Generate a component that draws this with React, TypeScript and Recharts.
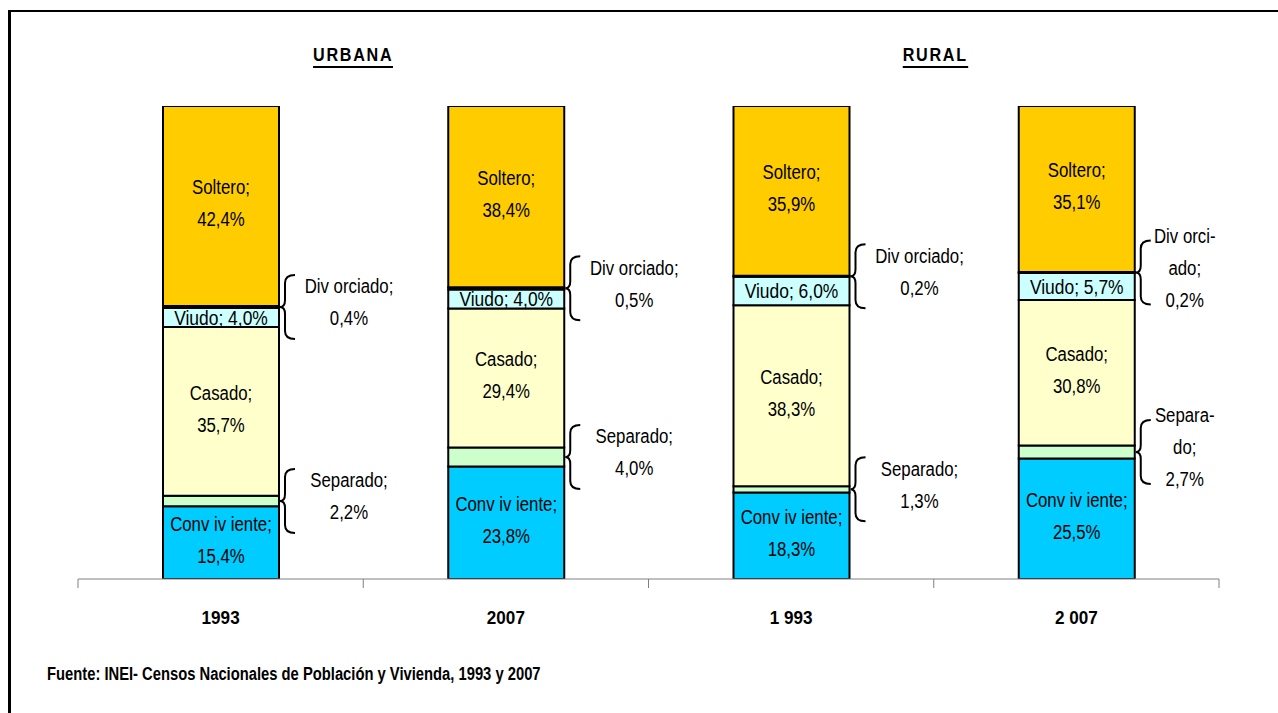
import React from 'react';
import { BarChart, Bar, XAxis, YAxis, LabelList } from 'recharts';

const categories = ['1993', '2007', '1 993', '2 007'];
const conviviente = [15.4, 23.8, 18.3, 25.5];
const separado = [2.2, 4.0, 1.3, 2.7];
const casado = [35.7, 29.4, 38.3, 30.8];
const viudo = [4.0, 4.0, 6.0, 5.7];
const divorciado = [0.4, 0.5, 0.2, 0.2];
const soltero = [42.4, 38.4, 35.9, 35.1];

const convivienteName = ['Conv iv iente;', 'Conv iv iente;', 'Conv iv iente;', 'Conv iv iente;'];
const casadoName = ['Casado;', 'Casado;', 'Casado;', 'Casado;'];
const solteroName = ['Soltero;', 'Soltero;', 'Soltero;', 'Soltero;'];
const separadoName = [['Separado;'], ['Separado;'], ['Separado;'], ['Separa-', 'do;']];
const divorciadoName = [['Div orciado;'], ['Div orciado;'], ['Div orciado;'], ['Div orci-', 'ado;']];
const groupTitles = ['URBANA', 'RURAL'];
const source = 'Fuente: INEI- Censos Nacionales de Población y Vivienda, 1993 y 2007';

const data = categories.map((c, i) => ({
  cat: c,
  conviviente: conviviente[i],
  separado: separado[i],
  casado: casado[i],
  viudo: viudo[i],
  divorciado: divorciado[i],
  soltero: soltero[i],
}));

const FONT = "'Liberation Sans', Arial, sans-serif";
const fmt = (v: number) => v.toFixed(1).replace('.', ',') + '%';

const SText = ({ x, y, size = 21, sx = 0.8, bold = false, children }: any) => (
  <text
    transform={`translate(${x},${y}) scale(${sx},1)`}
    x={0}
    y={0}
    dy="0.35em"
    textAnchor="middle"
    fontFamily={FONT}
    fontSize={size}
    fontWeight={bold ? 'bold' : 'normal'}
    fill="#000"
  >
    {children}
  </text>
);

const box = (p: any) => {
  const vb = p.viewBox && p.viewBox.width !== undefined ? p.viewBox : p;
  const x = Number(vb.x), y = Number(vb.y), w = Number(vb.width), h = Number(vb.height);
  const top = h < 0 ? y + h : y;
  return { x, top, w, h: Math.abs(h) };
};

const insideTwo = (names: string[], values: number[]) => (p: any) => {
  const { x, top, w, h } = box(p);
  const i = p.index;
  const cx = x + w / 2;
  const cy = top + h / 2 - 3;
  return (
    <g key={`in-${i}`}>
      <SText x={cx} y={cy - 16}>{names[i]}</SText>
      <SText x={cx} y={cy + 16}>{fmt(values[i])}</SText>
    </g>
  );
};

const insideOne = (name: string, values: number[]) => (p: any) => {
  const { x, top, w, h } = box(p);
  const i = p.index;
  return (
    <g key={`one-${i}`}>
      <SText x={x + w / 2} y={top + h / 2} sx={0.83}>{`${name} ${fmt(values[i])}`}</SText>
    </g>
  );
};

const braced = (names: string[][], values: number[]) => (p: any) => {
  const { x, top, w, h } = box(p);
  const i = p.index;
  const px = x + w + 1;
  const cy = top + h / 2;
  const lines = [...names[i], fmt(values[i])];
  const tx = px + (lines.length > 2 ? 49 : 69);
  const start = cy - 5 - ((lines.length - 1) * 32) / 2;
  const d = `M ${px + 15} ${cy - 32} Q ${px + 5} ${cy - 32} ${px + 5} ${cy - 24} L ${px + 5} ${cy - 7} Q ${px + 5} ${cy} ${px} ${cy} Q ${px + 5} ${cy} ${px + 5} ${cy + 7} L ${px + 5} ${cy + 24} Q ${px + 5} ${cy + 32} ${px + 15} ${cy + 32}`;
  return (
    <g key={`br-${i}`}>
      <path d={d} fill="none" stroke="#000" strokeWidth={2} />
      {lines.map((l, k) => (
        <SText key={k} x={tx} y={start + k * 32}>{l}</SText>
      ))}
    </g>
  );
};

const CategoryTick = (props: any) => {
  const { x, y, payload, index } = props;
  const off = payload && payload.offset ? payload.offset : 0;
  return (
    <g>
      <line x1={x - off} x2={x - off} y1={y} y2={y + 9} stroke="#808080" strokeWidth={1} />
      {index === categories.length - 1 && (
        <line x1={x + off} x2={x + off} y1={y} y2={y + 9} stroke="#808080" strokeWidth={1} />
      )}
      <SText x={x} y={y + 38} size={19} sx={0.9} bold>{payload.value}</SText>
    </g>
  );
};

export default function App() {
  return (
    <div style={{ position: 'absolute', left: 0, top: 0, width: 1278, height: 713, overflow: 'hidden', background: '#fff' }}>
      <div style={{ position: 'absolute', left: 8, top: 10, width: 1400, height: 900, borderLeft: '3px solid #000', borderTop: '2.5px solid #000' }} />
      <div style={{ position: 'absolute', left: 0, top: 0 }}>
        <BarChart width={1278} height={713} data={data} margin={{ top: 106, right: 59, bottom: 94, left: 78 }} barSize={116}>
          <XAxis dataKey="cat" height={40} tickLine={false} tickSize={0} tickMargin={0} axisLine={{ stroke: '#808080', strokeWidth: 1 }} tick={<CategoryTick />} interval={0} />
          <YAxis hide type="number" domain={[0, 100]} allowDataOverflow />
          <Bar dataKey="conviviente" stackId="a" fill="#00CCFF" stroke="#000" strokeWidth={2} isAnimationActive={false}>
            <LabelList dataKey="conviviente" content={insideTwo(convivienteName, conviviente)} />
          </Bar>
          <Bar dataKey="separado" stackId="a" fill="#CCFFCC" stroke="#000" strokeWidth={2} isAnimationActive={false}>
            <LabelList dataKey="separado" content={braced(separadoName, separado)} />
          </Bar>
          <Bar dataKey="casado" stackId="a" fill="#FFFFCC" stroke="#000" strokeWidth={2} isAnimationActive={false}>
            <LabelList dataKey="casado" content={insideTwo(casadoName, casado)} />
          </Bar>
          <Bar dataKey="viudo" stackId="a" fill="#CCFFFF" stroke="#000" strokeWidth={2} isAnimationActive={false}>
            <LabelList dataKey="viudo" content={insideOne('Viudo;', viudo)} />
          </Bar>
          <Bar dataKey="divorciado" stackId="a" fill="#000000" stroke="#000" strokeWidth={2} isAnimationActive={false}>
            <LabelList dataKey="divorciado" content={braced(divorciadoName, divorciado)} />
          </Bar>
          <Bar dataKey="soltero" stackId="a" fill="#FFCC00" stroke="#000" strokeWidth={2} isAnimationActive={false}>
            <LabelList dataKey="soltero" content={insideTwo(solteroName, soltero)} />
          </Bar>
        </BarChart>
      </div>
      {groupTitles.map((t, i) => (
        <div key={t} style={{ position: 'absolute', left: (i === 0 ? 353 : 935) - 150, top: 44, width: 300, textAlign: 'center', fontFamily: FONT, fontWeight: 'bold', fontSize: 19, lineHeight: '22px' }}>
          <span style={{ display: 'inline-block', transform: 'scaleX(0.85)', letterSpacing: 2, borderBottom: '2.5px solid #000', paddingRight: 0 }}>{t}</span>
        </div>
      ))}
      <div style={{ position: 'absolute', left: 47, top: 664, fontFamily: FONT, fontWeight: 'bold', fontSize: 18, lineHeight: '20px', whiteSpace: 'nowrap', transform: 'scaleX(0.82)', transformOrigin: 'left center' }}>
        {source}
      </div>
    </div>
  );
}
